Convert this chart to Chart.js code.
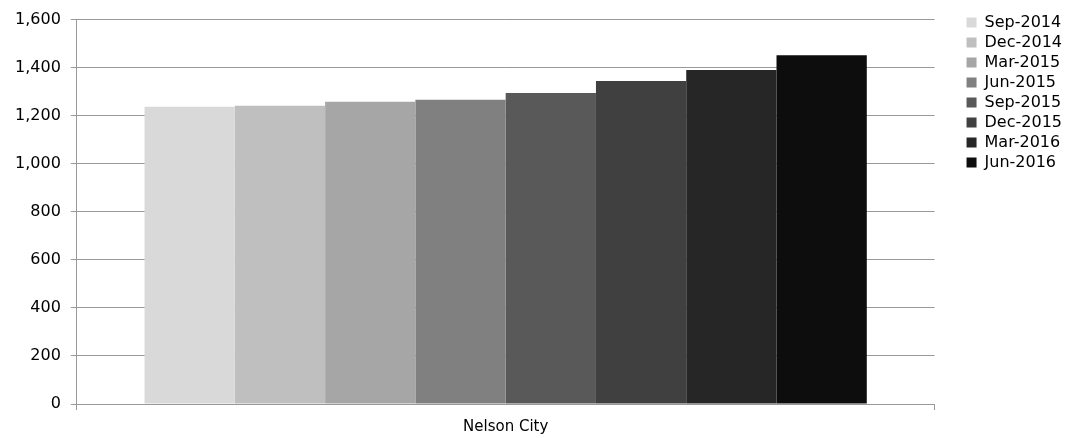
<!DOCTYPE html>
<html lang="en">
  <head>
    <meta charset="UTF-8" />
    <title>Nelson City</title>
    <script src="https://cdn.jsdelivr.net/npm/chart.js"></script>
    <style>
      body { margin: 0; background: #fff; }
      #wrap { width: 1080px; height: 438px; }
    </style>
  </head>
  <body>
    <div id="wrap"><canvas id="nelsonChart" width="1080" height="438"></canvas></div>

    <script>
      const categories = ['Nelson City'];
      const quarters = ['Sep-2014', 'Dec-2014', 'Mar-2015', 'Jun-2015', 'Sep-2015', 'Dec-2015', 'Mar-2016', 'Jun-2016'];
      const values = [1237, 1241, 1258, 1266, 1295, 1344, 1390, 1452];
      const shades = ['#d9d9d9', '#bfbfbf', '#a6a6a6', '#808080', '#595959', '#404040', '#262626', '#0d0d0d'];

      const ctx = document.getElementById('nelsonChart').getContext('2d');
      const nelsonChart = new Chart(ctx, {
        type: 'bar',
        data: {
          labels: categories,
          datasets: quarters.map((q, i) => ({
            label: q,
            data: [values[i]],
            backgroundColor: shades[i],
            borderWidth: 0,
            barPercentage: 1,
            categoryPercentage: 0.842,
          })),
        },
        options: {
          responsive: false,
          animation: false,
          layout: { padding: { top: 5, right: 8, left: 5, bottom: -6 } },
          plugins: {
            tooltip: { enabled: false },
            legend: {
              position: 'right',
              align: 'start',
              // blank title only pushes the items down a little
              title: { display: true, text: '', font: { size: 2 }, padding: { top: 2, bottom: 1 } },
              labels: {
                boxWidth: 10,
                boxHeight: 10,
                padding: 4,
                color: '#000',
                font: { family: 'DejaVu Sans', size: 16 },
              },
            },
          },
          scales: {
            x: {
              grid: { display: true, drawOnChartArea: false, color: '#999', tickLength: 6 },
              border: { color: '#999' },
              ticks: { color: '#000', padding: 8, font: { family: 'DejaVu Sans', size: 15 } },
            },
            y: {
              min: 0,
              max: 1600,
              ticks: { stepSize: 200, color: '#000', font: { family: 'DejaVu Sans', size: 16 }, padding: 10 },
              grid: { color: '#999', tickLength: 6 },
              border: { color: '#999' },
            },
            // empty spacer between the plot and the legend
            gap: {
              type: 'linear',
              position: 'right',
              grid: { display: false },
              border: { display: false },
              ticks: { display: false },
              afterFit: (scale) => { scale.width = 28; },
            },
          },
        },
      });
    </script>
  </body>
</html>
